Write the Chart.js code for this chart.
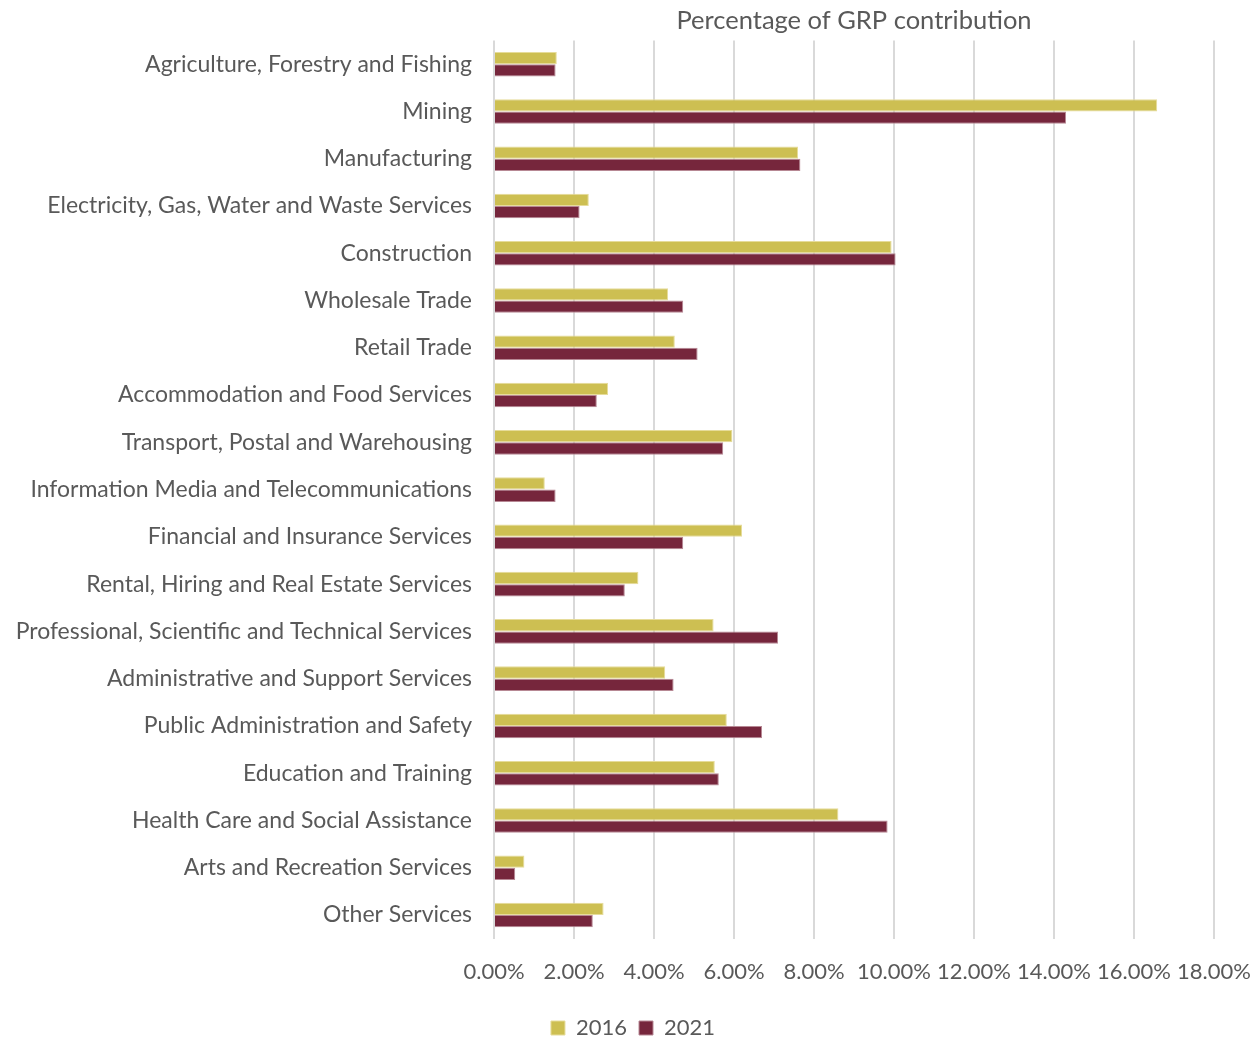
<!DOCTYPE html>
<html>
<head>
<meta charset="utf-8">
<script src="https://cdn.jsdelivr.net/npm/chart.js@4"></script>
<style>
  html, body { margin: 0; padding: 0; background: #fff; }
  canvas { display: block; }
</style>
</head>
<body>
<canvas id="grpChart" width="1258" height="1038"></canvas>
<script>
const industries = [
    'Agriculture, Forestry and Fishing',
    'Mining',
    'Manufacturing',
    'Electricity, Gas, Water and Waste Services',
    'Construction',
    'Wholesale Trade',
    'Retail Trade',
    'Accommodation and Food Services',
    'Transport, Postal and Warehousing',
    'Information Media and Telecommunications',
    'Financial and Insurance Services',
    'Rental, Hiring and Real Estate Services',
    'Professional, Scientific and Technical Services',
    'Administrative and Support Services',
    'Public Administration and Safety',
    'Education and Training',
    'Health Care and Social Assistance',
    'Arts and Recreation Services',
    'Other Services'
];

const share2016 = [1.57, 16.58, 7.60, 2.37, 9.94, 4.35, 4.52, 2.85, 5.96, 1.27, 6.20, 3.61, 5.49, 4.28, 5.82, 5.52, 8.61, 0.76, 2.74];
const share2021 = [1.54, 14.30, 7.66, 2.14, 10.04, 4.73, 5.09, 2.57, 5.73, 1.54, 4.73, 3.27, 7.10, 4.49, 6.70, 5.62, 9.84, 0.53, 2.47];

const xTicks = [0, 2, 4, 6, 8, 10, 12, 14, 16, 18];

const textColor = '#595959';
const fontFamily = 'Lato, "Open Sans", sans-serif';

Chart.defaults.color = textColor;
Chart.defaults.font.family = fontFamily;

const ctx = document.getElementById('grpChart');

new Chart(ctx, {
    type: 'bar',
    data: {
        labels: industries,
        datasets: [{
            label: '2016',
            data: share2016,
            backgroundColor: '#cdbf52',
            borderColor: '#e6dc9a',
            borderWidth: 1
        }, {
            label: '2021',
            data: share2021,
            backgroundColor: '#76263c',
            borderColor: '#b78894',
            borderWidth: 1
        }]
    },
    options: {
        indexAxis: 'y',
        responsive: false,
        animation: false,
        categoryPercentage: 0.52,
        barPercentage: 1.0,
        layout: {
            padding: { left: 8, right: 0, top: 0, bottom: -11 }
        },
        scales: {
            x: {
                position: 'bottom',
                min: 0,
                max: 18,
                afterBuildTicks: (axis) => {
                    axis.ticks = xTicks.map(v => ({ value: v }));
                },
                // the last tick label may hang past the plot edge
                afterFit: (scale) => {
                    scale.paddingRight = 44;
                },
                grid: {
                    color: '#d9d9d9',
                    lineWidth: 2,
                    drawTicks: false
                },
                border: { display: false },
                ticks: {
                    padding: 20,
                    maxRotation: 0,
                    font: { size: 22 },
                    color: textColor,
                    callback: (v) => Number(v).toFixed(2) + '%'
                }
            },
            xTop: {
                position: 'top',
                min: 0,
                max: 18,
                grid: { display: false, drawTicks: false },
                border: { display: false },
                ticks: { display: false },
                title: {
                    display: true,
                    text: 'Percentage of GRP contribution',
                    font: { size: 25.5 },
                    color: textColor,
                    padding: { top: 5, bottom: 5 }
                }
            },
            y: {
                afterFit: (scale) => {
                    scale.width = 486;
                },
                grid: { display: false, drawTicks: false },
                border: { display: false },
                ticks: {
                    padding: 22,
                    font: { size: 23 },
                    color: textColor,
                    autoSkip: false
                }
            }
        },
        plugins: {
            legend: {
                position: 'bottom',
                labels: {
                    boxWidth: 14,
                    boxHeight: 14,
                    padding: 12,
                    font: { size: 22 },
                    color: textColor
                }
            },
            tooltip: { enabled: false }
        }
    }
});
</script>
</body>
</html>
